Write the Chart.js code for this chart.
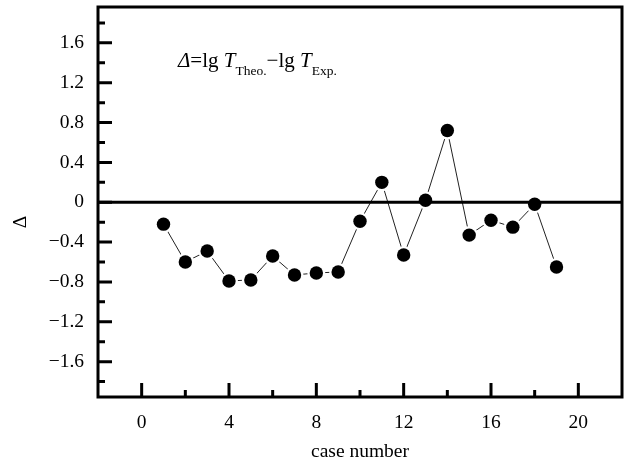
<!DOCTYPE html>
<html>
<head>
<meta charset="utf-8">
<script src="https://cdn.jsdelivr.net/npm/chart.js@4"></script>
<style>
  html, body { margin: 0; padding: 0; background: #fff; }
  #wrap { width: 626px; height: 464px; position: relative; }
</style>
</head>
<body>
<div id="wrap"><canvas id="c" width="626" height="464"></canvas></div>
<script>
// ---- data ----
const caseNumbers = [1, 2, 3, 4, 5, 6, 7, 8, 9, 10, 11, 12, 13, 14, 15, 16, 17, 18, 19];
const deltaValues = [-0.22, -0.60, -0.49, -0.79, -0.78, -0.54, -0.73, -0.71, -0.70, -0.19,
                     0.20, -0.53, 0.02, 0.72, -0.33, -0.18, -0.25, -0.02, -0.65];
const xTickValues = [0, 4, 8, 12, 16, 20];
const xTickLabels = ['0', '4', '8', '12', '16', '20'];
const xMinorValues = [2, 6, 10, 14, 18];
const yTickValues = [-1.6, -1.2, -0.8, -0.4, 0, 0.4, 0.8, 1.2, 1.6];
const yTickLabels = ['\u22121.6', '\u22121.2', '\u22120.8', '\u22120.4', '0', '0.4', '0.8', '1.2', '1.6'];
const yMinorValues = [-1.8, -1.4, -1.0, -0.6, -0.2, 0.2, 0.6, 1.0, 1.4, 1.8];
const xTitle = 'case number';
const yTitle = '\u0394';

const FONT = '"Liberation Serif", "Times New Roman", serif';
const points = caseNumbers.map((x, i) => ({ x: x, y: deltaValues[i] }));

const framePlugin = {
  id: 'frame',
  beforeDatasetDraw(chart, args) {
    if (args.index !== 0) return;
    const { ctx, chartArea } = chart;
    const y0 = chart.scales.y.getPixelForValue(0);
    ctx.save();
    ctx.strokeStyle = '#000';
    ctx.lineWidth = 3;
    ctx.beginPath();
    ctx.moveTo(chartArea.left, y0);
    ctx.lineTo(chartArea.right, y0);
    ctx.stroke();
    ctx.restore();
  },
  afterDraw(chart) {
    const { ctx, chartArea } = chart;
    const xs = chart.scales.x, ys = chart.scales.y;
    ctx.save();
    ctx.strokeStyle = '#000';
    ctx.lineWidth = 3;
    ctx.beginPath();
    yTickValues.forEach(v => { const p = ys.getPixelForValue(v); ctx.moveTo(chartArea.left, p); ctx.lineTo(chartArea.left + 14, p); });
    yMinorValues.forEach(v => { const p = ys.getPixelForValue(v); ctx.moveTo(chartArea.left, p); ctx.lineTo(chartArea.left + 7, p); });
    xTickValues.forEach(v => { const p = xs.getPixelForValue(v); ctx.moveTo(p, chartArea.bottom); ctx.lineTo(p, chartArea.bottom - 14); });
    xMinorValues.forEach(v => { const p = xs.getPixelForValue(v); ctx.moveTo(p, chartArea.bottom); ctx.lineTo(p, chartArea.bottom - 7); });
    ctx.stroke();
    ctx.lineWidth = 3;
    ctx.strokeRect(chartArea.left, chartArea.top, chartArea.right - chartArea.left, chartArea.bottom - chartArea.top);

    // y title
    ctx.fillStyle = '#000';
    ctx.font = '19.5px ' + FONT;
    ctx.textAlign = 'center';
    ctx.textBaseline = 'middle';
    ctx.save();
    ctx.translate(21, 222);
    ctx.rotate(-Math.PI / 2);
    ctx.fillText(yTitle, 0, 0);
    ctx.restore();

    // annotation
    const segs = [
      { t: '\u0394', f: 'italic 21px ' + FONT, dy: 0 },
      { t: '=lg ', f: '21px ' + FONT, dy: 0 },
      { t: 'T', f: 'italic 21px ' + FONT, dy: 0 },
      { t: 'Theo.', f: '13.5px ' + FONT, dy: 7.5 },
      { t: '\u2212lg ', f: '21px ' + FONT, dy: 0 },
      { t: 'T', f: 'italic 21px ' + FONT, dy: 0 },
      { t: 'Exp.', f: '13.5px ' + FONT, dy: 7.5 }
    ];
    ctx.textAlign = 'left';
    ctx.textBaseline = 'alphabetic';
    let x = 178;
    const base = 67;
    segs.forEach(s => {
      ctx.font = s.f;
      ctx.fillText(s.t, x, base + s.dy);
      x += ctx.measureText(s.t).width;
    });
    ctx.restore();
  }
};

new Chart(document.getElementById('c'), {
  type: 'scatter',
  data: {
    datasets: [
      {
        data: points,
        showLine: false,
        pointRadius: 6.7,
        pointBackgroundColor: '#000',
        pointBorderWidth: 0,
        order: 0
      },
      {
        data: points,
        showLine: true,
        borderColor: '#222',
        borderWidth: 1,
        pointRadius: 9,
        pointBackgroundColor: '#fff',
        pointBorderWidth: 0,
        order: 1
      }
    ]
  },
  options: {
    responsive: false,
    animation: false,
    events: [],
    layout: { autoPadding: false, padding: { top: 7, right: 4, left: 0, bottom: 0 } },
    plugins: { legend: { display: false }, tooltip: { enabled: false } },
    scales: {
      x: {
        type: 'linear',
        min: -2,
        max: 22,
        afterFit(s) { s.height = 67; s.paddingLeft = 0; s.paddingRight = 0; },
        afterBuildTicks(s) { s.ticks = xTickValues.map(v => ({ value: v })); },
        grid: { display: false, drawTicks: false },
        border: { display: false },
        ticks: {
          padding: 14,
          color: '#000',
          font: { family: FONT, size: 19.5 },
          maxRotation: 0,
          callback: (v) => { const i = xTickValues.indexOf(v); return i >= 0 ? xTickLabels[i] : ''; }
        },
        title: {
          display: true,
          text: xTitle,
          color: '#000',
          font: { family: FONT, size: 19.5 },
          padding: { top: 0, bottom: 0 }
        }
      },
      y: {
        type: 'linear',
        min: -1.955,
        max: 1.96,
        afterFit(s) { s.width = 98; s.paddingTop = 0; s.paddingBottom = 0; },
        afterBuildTicks(s) { s.ticks = yTickValues.map(v => ({ value: v })); },
        grid: { display: false, drawTicks: false },
        border: { display: false },
        ticks: {
          padding: 14,
          color: '#000',
          font: { family: FONT, size: 19.5 },
          callback: (v) => { const i = yTickValues.findIndex(t => Math.abs(t - v) < 1e-9); return i >= 0 ? yTickLabels[i] : ''; }
        }
      }
    }
  },
  plugins: [framePlugin]
});
</script>
</body>
</html>
